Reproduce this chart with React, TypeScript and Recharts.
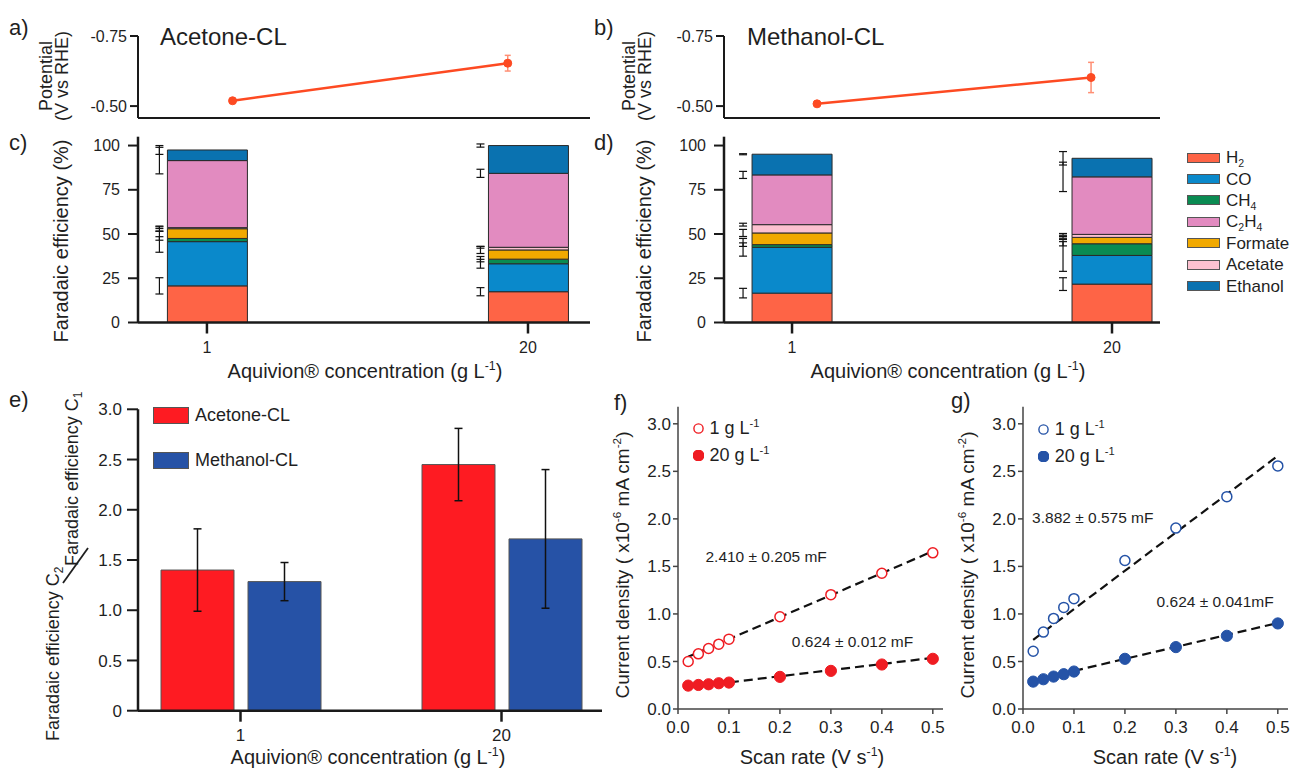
import React from 'react';
import {
  BarChart, Bar, ScatterChart, Scatter, XAxis, YAxis, ErrorBar, ReferenceDot, ReferenceLine, Legend,
} from 'recharts';

const FONT = '"Liberation Sans", Arial, Helvetica, sans-serif';
const INK = '#1f1f1f';
const AXIS = '#1a1a1a';

// ---------- a / b : potential vs concentration ----------
const concentrationLabels = ['1', '20'];
const concentrations = [1, 20];
const acetonePotential = [-0.519, -0.653];
const acetonePotentialErr = [0.005, 0.028];
const methanolPotential = [-0.508, -0.602];
const methanolPotentialErr = [0.003, 0.054];
const potentialTicks = [-0.75, -0.5];
const POT_COLOR = '#fd4a22';

// ---------- c / d : Faradaic efficiency (stack order bottom -> top) ----------
const products = ['H2', 'CO', 'CH4', 'Formate', 'Acetate', 'C2H4', 'Ethanol'];
const legendOrder = ['H2', 'CO', 'CH4', 'C2H4', 'Formate', 'Acetate', 'Ethanol'];
const productColors = ['#fe6446', '#0a89cb', '#0a8b52', '#f1a900', '#fdc1d0', '#e28bc0', '#0a72b0'];

const acetoneFE1 = [20.7, 25.0, 1.8, 5.5, 0.6, 37.9, 6.0];
const acetoneFE20 = [17.4, 15.8, 2.6, 5.2, 1.5, 41.8, 15.7];
const acetoneFEErr1 = [4.6, 6.0, 1.0, 1.5, 0.5, 7.5, 2.5];
const acetoneFEErr20 = [2.3, 2.5, 1.5, 2.0, 0.5, 2.3, 0.9];
const methanolFE1 = [16.6, 25.9, 1.5, 6.6, 4.7, 28.1, 11.7];
const methanolFE20 = [21.7, 16.2, 6.6, 3.6, 1.7, 32.5, 10.5];
const methanolFEErr1 = [2.7, 5.0, 1.0, 2.0, 0.8, 2.0, 0.3];
const methanolFEErr20 = [3.6, 9.0, 1.2, 0.5, 0.5, 8.3, 3.8];

// ---------- e : C2/C1 ratio ----------
const ratioAcetone = [1.40, 2.45];
const ratioAcetoneErr = [0.41, 0.36];
const ratioMethanol = [1.285, 1.71];
const ratioMethanolErr = [0.19, 0.69];

// ---------- f / g : double-layer capacitance ----------
const scanRates = [0.02, 0.04, 0.06, 0.08, 0.1, 0.2, 0.3, 0.4, 0.5];
const acetoneJ1 = [0.50, 0.58, 0.637, 0.682, 0.735, 0.971, 1.203, 1.428, 1.643];
const acetoneJ20 = [0.246, 0.253, 0.26, 0.271, 0.278, 0.338, 0.401, 0.468, 0.528];
const methanolJ1 = [0.608, 0.809, 0.953, 1.069, 1.161, 1.562, 1.903, 2.234, 2.557];
const methanolJ20 = [0.288, 0.313, 0.341, 0.366, 0.394, 0.528, 0.651, 0.770, 0.900];
const fitRates = [0.02, 0.5];
const acetoneFit1 = [0.55, 1.66];
const acetoneFit20 = [0.228, 0.538];
const methanolFit1 = [0.728, 2.663];
const methanolFit20 = [0.30, 0.905];
const ACETONE_RED = '#ef1c22';
const METHANOL_BLUE = '#2553a7';

// ---------- helpers ----------
const chem = (name: string) =>
  name.split(/(\d+)/).filter(Boolean).map((part, i) =>
    /^\d+$/.test(part)
      ? <span key={i} style={{ fontSize: '0.62em', position: 'relative', top: '0.35em' }}>{part}</span>
      : <span key={i}>{part}</span>);

const supText = (name: string) => {
  const m = name.match(/^(.*?)(-\d+)$/);
  if (!m) return name;
  return <>{m[1]}<span style={{ fontSize: '0.62em', position: 'relative', top: '-0.6em' }}>{m[2]}</span></>;
};

const tickStyle = (size: number) => ({ fontSize: size, fill: INK, fontFamily: FONT });
const NoTick = () => <g />;

// Potential axis runs downward from -0.75 (top) to about -0.46 (baseline).
// The chart plots the magnitude |E| on an ordinary axis and labels the ticks with the signed potential.
const POT_DOMAIN = [0.4575, 0.75];

function PotentialChart({ vals, errs, width, yAxisWidth, marginRight, xDomain }: any) {
  const data = concentrations.map((c, i) => ({ c, v: -vals[i], e: errs[i] }));
  const dot = (p: any) => <circle cx={p.cx} cy={p.cy} r={4} fill={POT_COLOR} stroke={POT_COLOR} strokeWidth={1} />;
  return (
    <ScatterChart width={width} height={140} margin={{ top: 36, right: marginRight, bottom: 2, left: 0 }}>
      <XAxis dataKey="c" type="number" domain={xDomain} ticks={concentrations}
        tick={<NoTick />} tickSize={0} height={20} stroke={AXIS} axisLine={{ stroke: AXIS, strokeWidth: 2 }} />
      <YAxis dataKey="v" type="number" width={yAxisWidth} domain={POT_DOMAIN} allowDataOverflow
        ticks={potentialTicks.map((t) => -t)}
        tickFormatter={(v: number) => (-v).toFixed(2)} tickSize={8} tickMargin={3}
        axisLine={{ stroke: AXIS, strokeWidth: 2 }} tickLine={{ stroke: AXIS, strokeWidth: 2 }} tick={tickStyle(16)} />
      <ReferenceLine y={POT_DOMAIN[0]} stroke={AXIS} strokeWidth={2} ifOverflow="extendDomain" />
      <Scatter data={data} line={{ stroke: POT_COLOR, strokeWidth: 2.5 }} shape={dot} fill={POT_COLOR} isAnimationActive={false}>
        <ErrorBar dataKey="e" width={3} stroke="#ff8f74" strokeWidth={1.5} direction="y" />
      </Scatter>
    </ScatterChart>
  );
}

function feRows(fe1: number[], fe20: number[], err1: number[], err20: number[]) {
  return concentrations.map((conc, i) => {
    const vals = i === 0 ? fe1 : fe20;
    const errs = i === 0 ? err1 : err20;
    const row: Record<string, number> = { conc };
    products.forEach((p, k) => { row[p] = vals[k]; row[p + '_err'] = errs[k]; });
    return row;
  });
}

const renderFELegend = (props: any) => {
  const items = [...(props.payload || [])].sort(
    (a: any, b: any) => legendOrder.indexOf(a.value) - legendOrder.indexOf(b.value));
  return (
    <div style={{ fontFamily: FONT, color: INK }}>
      {items.map((it: any, i: number) => (
        <div key={i} style={{ display: 'flex', alignItems: 'center', height: 21.4, whiteSpace: 'nowrap' }}>
          <span style={{ display: 'inline-block', width: 33, height: 10, background: it.color, border: '1px solid #555', boxSizing: 'border-box', marginRight: 6 }} />
          <span style={{ fontSize: 17, lineHeight: 1 }}>{chem(it.value)}</span>
        </div>
      ))}
    </div>
  );
};

function FEChart({ rows, width, yAxisWidth, marginRight, domain, errShift, showLegend }: any) {
  return (
    <BarChart width={width} height={260} data={rows} margin={{ top: 6.7, right: marginRight, bottom: 37.5, left: 0 }}>
      <XAxis dataKey="conc" type="number" domain={domain} allowDataOverflow ticks={concentrations} height={30}
        tickSize={11} tickMargin={8} axisLine={{ stroke: AXIS, strokeWidth: 2.5 }} tickLine={{ stroke: AXIS, strokeWidth: 2.5 }}
        tick={tickStyle(16)} />
      <YAxis type="number" width={yAxisWidth} domain={[0, 105]} allowDataOverflow ticks={[0, 25, 50, 75, 100]}
        tickSize={10} tickMargin={8} axisLine={{ stroke: AXIS, strokeWidth: 2.5 }} tickLine={{ stroke: AXIS, strokeWidth: 2 }}
        tick={tickStyle(16)} />
      {products.map((p, k) => (
        <Bar key={p} dataKey={p} name={p} stackId="fe" fill={productColors[k]} stroke="#2a2a2a" strokeWidth={1}
          barSize={80} isAnimationActive={false}>
          <ErrorBar dataKey={p + '_err'} width={4} stroke="#111" strokeWidth={1.2} direction="y"
            transform={`translate(${errShift},0)`} />
        </Bar>
      ))}
      {showLegend && (
        <Legend layout="vertical" align="center" verticalAlign="middle" content={renderFELegend}
          wrapperStyle={{ left: 587, top: 17, width: 'auto' }} />
      )}
    </BarChart>
  );
}

const ratioRows = concentrationLabels.map((c, i) => ({
  c, acetone: ratioAcetone[i], ae: ratioAcetoneErr[i], methanol: ratioMethanol[i], me: ratioMethanolErr[i],
}));

const renderRatioLegend = (props: any) => (
  <div style={{ fontFamily: FONT, color: INK }}>
    {(props.payload || []).map((it: any, i: number) => (
      <div key={i} style={{ display: 'flex', alignItems: 'center', height: 45, whiteSpace: 'nowrap' }}>
        <span style={{ display: 'inline-block', width: 36, height: 17, background: it.color, border: '1px solid #555', boxSizing: 'border-box', marginRight: 6 }} />
        <span style={{ fontSize: 18, lineHeight: 1 }}>{it.value}</span>
      </div>
    ))}
  </div>
);

function RatioChart() {
  return (
    <BarChart width={620} height={380} data={ratioRows} margin={{ top: 19.3, right: 18, bottom: 29.3, left: 0 }} barGap={14}>
      <XAxis dataKey="c" type="category" padding={{ left: -28, right: -30 }} height={30} tickSize={11} tickMargin={7}
        axisLine={{ stroke: AXIS, strokeWidth: 2.5 }} tickLine={{ stroke: AXIS, strokeWidth: 2.5 }} tick={tickStyle(17)} />
      <YAxis type="number" width={138} domain={[0, 3]} allowDataOverflow ticks={[0, 0.5, 1, 1.5, 2, 2.5, 3]}
        tickFormatter={(v: number) => (v === 0 ? '0' : v.toFixed(1))} tickSize={11} tickMargin={5}
        axisLine={{ stroke: AXIS, strokeWidth: 2.5 }} tickLine={{ stroke: AXIS, strokeWidth: 2 }} tick={tickStyle(17)} />
      <Bar dataKey="acetone" name="Acetone-CL" fill="#fe1b22" stroke="#555" strokeWidth={1} barSize={73} isAnimationActive={false}>
        <ErrorBar dataKey="ae" width={4} stroke="#111" strokeWidth={1.5} direction="y" />
      </Bar>
      <Bar dataKey="methanol" name="Methanol-CL" fill="#2652a6" stroke="#555" strokeWidth={1} barSize={73} isAnimationActive={false}>
        <ErrorBar dataKey="me" width={4} stroke="#111" strokeWidth={1.5} direction="y" />
      </Bar>
      <Legend layout="vertical" align="center" verticalAlign="middle" content={renderRatioLegend}
        wrapperStyle={{ left: 153, top: 2.5, width: 'auto' }} />
    </BarChart>
  );
}

const points = (ys: number[]) => scanRates.map((x, i) => ({ x, y: ys[i] }));
const fitPoints = (ys: number[]) => fitRates.map((x, i) => ({ x, y: ys[i] }));

const makeLegendScan = (color: string) => (props: any) => (
  <div style={{ fontFamily: FONT, color: INK }}>
    {(props.payload || [])
      .filter((it: any) => it.type !== 'none' && !String(it.value).startsWith('fit'))
      .map((it: any, i: number) => {
        const filled = String(it.value).startsWith('20');
        return (
          <div key={i} style={{ display: 'flex', alignItems: 'center', height: 27, whiteSpace: 'nowrap' }}>
            <svg width={11} height={11} style={{ marginRight: 6 }}>
              <circle cx={5.5} cy={5.5} r={filled ? 5.2 : 4.6} fill={filled ? color : '#fff'} stroke={color} strokeWidth={1.4} />
            </svg>
            <span style={{ fontSize: 18, lineHeight: 1 }}>{supText(it.value)}</span>
          </div>
        );
      })}
  </div>
);

function ScanChart({ width, yAxisWidth, marginRight, color, j1, j20, fit1, fit20, notes, legendPos }: any) {
  const open = (p: any) => <circle cx={p.cx} cy={p.cy} r={5} fill="#fff" stroke={color} strokeWidth={1.5} />;
  const filled = (p: any) => <circle cx={p.cx} cy={p.cy} r={5.6} fill={color} stroke={color} strokeWidth={1} />;
  const dash = { stroke: '#111', strokeWidth: 2.2, strokeDasharray: '9 5' };
  return (
    <ScatterChart width={width} height={370} margin={{ top: 6.7, right: marginRight, bottom: 31, left: 0 }}>
      <XAxis type="number" dataKey="x" domain={[0, 0.52]} allowDataOverflow ticks={[0, 0.1, 0.2, 0.3, 0.4, 0.5]}
        tickFormatter={(v: number) => v.toFixed(1)} height={30} tickSize={5} tickMargin={7}
        axisLine={{ stroke: '#444', strokeWidth: 1.5 }} tickLine={{ stroke: '#444', strokeWidth: 1.5 }} tick={tickStyle(17)} />
      <YAxis type="number" dataKey="y" width={yAxisWidth} domain={[0, 3.18]} allowDataOverflow ticks={[0, 0.5, 1, 1.5, 2, 2.5, 3]}
        tickFormatter={(v: number) => v.toFixed(1)} tickSize={5} tickMargin={2}
        axisLine={{ stroke: '#444', strokeWidth: 1.5 }} tickLine={{ stroke: '#444', strokeWidth: 1.5 }} tick={tickStyle(17)} />
      <Scatter name="fit1" data={fitPoints(fit1)} line={dash} shape={() => <g />} legendType="none" isAnimationActive={false} />
      <Scatter name="fit20" data={fitPoints(fit20)} line={dash} shape={() => <g />} legendType="none" isAnimationActive={false} />
      <Scatter name="1 g L-1" data={points(j1)} fill={color} shape={open} isAnimationActive={false} />
      <Scatter name="20 g L-1" data={points(j20)} fill={color} shape={filled} isAnimationActive={false} />
      {notes.map((n: any, i: number) => (
        <ReferenceDot key={i} x={n.x} y={n.y} r={0} fill="none" stroke="none"
          label={{ value: n.text, position: 'center', fontSize: 15.5, fill: INK, fontFamily: FONT }} />
      ))}
      <Legend layout="vertical" align="center" verticalAlign="middle" content={makeLegendScan(color)}
        wrapperStyle={{ left: legendPos[0], top: legendPos[1], width: 'auto' }} />
    </ScatterChart>
  );
}

function RotText({ x, y, size, anchor = 'middle', children }: any) {
  return (
    <text transform={`translate(${x},${y}) rotate(-90)`} textAnchor={anchor} fontSize={size} fill={INK} fontFamily={FONT}>
      {children}
    </text>
  );
}

// superscript followed by the rest of the text, baseline restored on the following tspan
const supThen = (t: string, rest: string, size: number) => (
  <>
    <tspan dy={-size * 0.4} fontSize={size * 0.62}>{t}</tspan>
    <tspan dy={size * 0.4}>{rest}</tspan>
  </>
);

export default function App() {
  const aquivion = (x: number, y: number) => (
    <text x={x} y={y} textAnchor="middle" fontSize={20} fill={INK} fontFamily={FONT}>
      <tspan>Aquivion® concentration (g L</tspan>{supThen('-1', ')', 20)}
    </text>
  );
  const scanLabel = (x: number, y: number) => (
    <text x={x} y={y} textAnchor="middle" fontSize={20} fill={INK} fontFamily={FONT}>
      <tspan>Scan rate (V s</tspan>{supThen('-1', ')', 20)}
    </text>
  );
  const currentLabel = (x: number) => (
    <RotText x={x} y={565} size={19}>
      <tspan>Current density ( x10</tspan>{supThen('-6', ' mA cm', 19)}{supThen('-2', ')', 19)}
    </RotText>
  );
  return (
    <div style={{ position: 'absolute', left: 0, top: 0, width: 1294, height: 770, background: '#fff', overflow: 'hidden', fontFamily: FONT }}>
      <div style={{ position: 'absolute', left: 0, top: 0 }}>
        <PotentialChart vals={acetonePotential} errs={acetonePotentialErr} width={600} yAxisWidth={138} marginRight={10}
          xDomain={[-5.53, 25.68]} />
      </div>
      <div style={{ position: 'absolute', left: 600, top: 0 }}>
        <PotentialChart vals={methanolPotential} errs={methanolPotentialErr} width={600} yAxisWidth={124} marginRight={40}
          xDomain={[-5.45, 24.78]} />
      </div>
      <div style={{ position: 'absolute', left: 0, top: 130 }}>
        <FEChart rows={feRows(acetoneFE1, acetoneFE20, acetoneFEErr1, acetoneFEErr20)} width={600} yAxisWidth={138}
          marginRight={10} domain={[-3.08, 23.67]} errShift={-48} showLegend={false} />
      </div>
      <div style={{ position: 'absolute', left: 600, top: 130 }}>
        <FEChart rows={feRows(methanolFE1, methanolFE20, methanolFEErr1, methanolFEErr20)} width={694} yAxisWidth={124}
          marginRight={134} domain={[-3.04, 22.85]} errShift={-49} showLegend />
      </div>
      <div style={{ position: 'absolute', left: 0, top: 390 }}>
        <RatioChart />
      </div>
      <div style={{ position: 'absolute', left: 600, top: 400 }}>
        <ScanChart width={350} yAxisWidth={78} marginRight={7} color={ACETONE_RED} j1={acetoneJ1} j20={acetoneJ20}
          fit1={acetoneFit1} fit20={acetoneFit20} legendPos={[92.5, 14.5]}
          notes={[{ x: 0.173, y: 1.6, text: '2.410 ± 0.205 mF' }, { x: 0.3425, y: 0.713, text: '0.624 ± 0.012 mF' }]} />
      </div>
      <div style={{ position: 'absolute', left: 940, top: 400 }}>
        <ScanChart width={354} yAxisWidth={83} marginRight={6} color={METHANOL_BLUE} j1={methanolJ1} j20={methanolJ20}
          fit1={methanolFit1} fit20={methanolFit20} legendPos={[97.8, 15.5]}
          notes={[{ x: 0.137, y: 2.01, text: '3.882 ± 0.575 mF' }, { x: 0.377, y: 1.13, text: '0.624 ± 0.041mF' }]} />
      </div>

      <svg width={1294} height={770} style={{ position: 'absolute', left: 0, top: 0, pointerEvents: 'none' }}>
        <g fontFamily={FONT} fill={INK} fontSize={22}>
          <text x={9} y={35}>a)</text>
          <text x={594} y={35}>b)</text>
          <text x={9} y={150}>c)</text>
          <text x={594} y={150}>d)</text>
          <text x={9} y={407}>e)</text>
          <text x={614} y={410}>f)</text>
          <text x={951} y={408}>g)</text>
        </g>
        <text x={160} y={45} fontSize={24} fill={INK} fontFamily={FONT}>Acetone-CL</text>
        <text x={747} y={45} fontSize={24} fill={INK} fontFamily={FONT}>Methanol-CL</text>

        <RotText x={52} y={76} size={18}>Potential</RotText>
        <RotText x={68} y={76} size={18}>(V vs RHE)</RotText>
        <RotText x={635} y={76} size={18}>Potential</RotText>
        <RotText x={651} y={76} size={18}>(V vs RHE)</RotText>

        <RotText x={68} y={241} size={20}>Faradaic efficiency (%)</RotText>
        <RotText x={651} y={241} size={20}>Faradaic efficiency (%)</RotText>
        {aquivion(365, 378)}
        {aquivion(948, 378)}

        <RotText x={59} y={741} size={18} anchor="start">
          <tspan>Faradaic efficiency C</tspan><tspan dy={4} fontSize={12}>2</tspan>
        </RotText>
        <line x1={63} y1={583} x2={88} y2={548} stroke={INK} strokeWidth={1.8} />
        <RotText x={78} y={566} size={18} anchor="start">
          <tspan>Faradaic efficiency C</tspan><tspan dy={4} fontSize={12}>1</tspan>
        </RotText>
        {aquivion(368, 764)}

        {currentLabel(629)}
        {currentLabel(974)}
        {scanLabel(812, 764)}
        {scanLabel(1165, 764)}
      </svg>
    </div>
  );
}
